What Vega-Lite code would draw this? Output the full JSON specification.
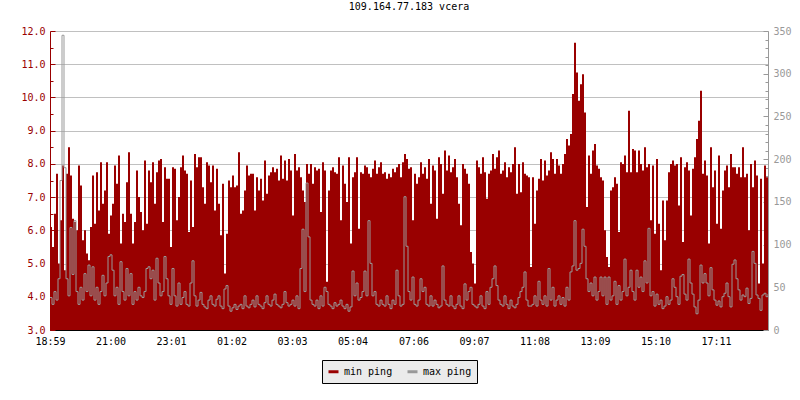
{
"$schema": "https://vega.github.io/schema/vega-lite/v6.json",
"width": 718, "height": 299,
"autosize": {"type": "none"},
"padding": {"left": 50, "top": 31, "right": 32, "bottom": 70},
"background": "white",
"title": {"text": "109.164.77.183 vcera", "font": "DejaVu Sans Mono", "fontSize": 10, "fontWeight": "normal", "color": "black", "offset": 14, "anchor": "middle"},
"config": {"view": {"stroke": null}},
"data": {"values": [
{"t":0,"min":6.1,"max":38},{"t":4,"min":5.5,"max":30},{"t":8,"min":6.5,"max":45},{"t":12,"min":7.7,"max":35},{"t":16,"min":5.0,"max":60},{"t":20,"min":6.3,"max":175},{"t":24,"min":7.95,"max":345},{"t":28,"min":4.8,"max":190},{"t":32,"min":7.7,"max":60},{"t":36,"min":8.5,"max":40},
{"t":40,"min":7.65,"max":120},{"t":44,"min":6.35,"max":65},{"t":48,"min":6.25,"max":128},{"t":52,"min":6.0,"max":45},{"t":56,"min":7.95,"max":30},{"t":60,"min":7.35,"max":50},{"t":64,"min":5.7,"max":35},{"t":68,"min":6.0,"max":66},{"t":72,"min":5.3,"max":45},{"t":76,"min":5.1,"max":76},
{"t":80,"min":6.1,"max":40},{"t":84,"min":7.65,"max":74},{"t":88,"min":6.2,"max":35},{"t":92,"min":7.75,"max":50},{"t":96,"min":6.6,"max":30},{"t":100,"min":8.05,"max":45},{"t":104,"min":6.8,"max":64},{"t":108,"min":7.2,"max":40},{"t":112,"min":8.05,"max":55},{"t":116,"min":5.9,"max":86},
{"t":120,"min":6.45,"max":88},{"t":124,"min":6.8,"max":70},{"t":128,"min":7.95,"max":40},{"t":132,"min":7.4,"max":50},{"t":136,"min":8.25,"max":30},{"t":140,"min":5.6,"max":80},{"t":144,"min":6.5,"max":45},{"t":148,"min":6.25,"max":35},{"t":152,"min":7.45,"max":72},{"t":156,"min":8.35,"max":40},
{"t":160,"min":6.5,"max":66},{"t":164,"min":5.6,"max":30},{"t":168,"min":6.25,"max":45},{"t":172,"min":7.8,"max":35},{"t":176,"min":7.0,"max":50},{"t":180,"min":6.55,"max":40},{"t":184,"min":6.0,"max":38},{"t":188,"min":8.1,"max":45},{"t":192,"min":6.2,"max":72},{"t":196,"min":7.8,"max":74},
{"t":200,"min":7.45,"max":60},{"t":204,"min":8.05,"max":70},{"t":208,"min":6.8,"max":35},{"t":212,"min":7.75,"max":84},{"t":216,"min":8.1,"max":55},{"t":220,"min":8.15,"max":40},{"t":224,"min":6.25,"max":45},{"t":228,"min":7.9,"max":86},{"t":232,"min":7.55,"max":60},{"t":236,"min":7.55,"max":40},
{"t":240,"min":5.5,"max":30},{"t":244,"min":7.9,"max":72},{"t":248,"min":7.85,"max":40},{"t":252,"min":6.3,"max":28},{"t":256,"min":7.0,"max":55},{"t":260,"min":7.9,"max":30},{"t":264,"min":8.25,"max":38},{"t":268,"min":7.8,"max":45},{"t":272,"min":7.7,"max":30},{"t":276,"min":5.95,"max":28},
{"t":280,"min":7.5,"max":55},{"t":284,"min":6.1,"max":81},{"t":288,"min":8.3,"max":40},{"t":292,"min":7.9,"max":28},{"t":296,"min":8.2,"max":35},{"t":300,"min":8.2,"max":44},{"t":304,"min":7.3,"max":30},{"t":308,"min":6.8,"max":27},{"t":312,"min":8.05,"max":25},{"t":316,"min":7.95,"max":35},
{"t":320,"min":7.45,"max":40},{"t":324,"min":7.95,"max":30},{"t":328,"min":6.6,"max":28},{"t":332,"min":7.85,"max":36},{"t":336,"min":6.8,"max":40},{"t":340,"min":5.85,"max":28},{"t":344,"min":7.4,"max":25},{"t":348,"min":4.7,"max":48},{"t":352,"min":5.9,"max":52},{"t":356,"min":7.5,"max":28},
{"t":360,"min":7.3,"max":22},{"t":364,"min":7.65,"max":26},{"t":368,"min":7.3,"max":30},{"t":372,"min":7.35,"max":24},{"t":376,"min":8.35,"max":28},{"t":380,"min":6.5,"max":30},{"t":384,"min":6.6,"max":25},{"t":388,"min":7.2,"max":40},{"t":392,"min":7.95,"max":28},{"t":396,"min":7.65,"max":26},
{"t":400,"min":7.7,"max":30},{"t":404,"min":7.7,"max":35},{"t":408,"min":6.6,"max":27},{"t":412,"min":7.6,"max":40},{"t":416,"min":7.2,"max":30},{"t":420,"min":7.55,"max":28},{"t":424,"min":6.9,"max":25},{"t":428,"min":8.1,"max":32},{"t":432,"min":7.1,"max":40},{"t":436,"min":7.65,"max":30},
{"t":440,"min":7.75,"max":28},{"t":444,"min":7.9,"max":35},{"t":448,"min":7.75,"max":42},{"t":452,"min":7.85,"max":30},{"t":456,"min":7.5,"max":28},{"t":460,"min":8.25,"max":26},{"t":464,"min":7.55,"max":30},{"t":468,"min":8.1,"max":45},{"t":472,"min":7.5,"max":32},{"t":476,"min":8.15,"max":28},
{"t":480,"min":7.8,"max":30},{"t":484,"min":6.45,"max":35},{"t":488,"min":8.3,"max":28},{"t":492,"min":7.8,"max":40},{"t":496,"min":7.9,"max":25},{"t":500,"min":7.6,"max":72},{"t":504,"min":7.2,"max":118},{"t":508,"min":6.85,"max":45},{"t":512,"min":8.0,"max":172},{"t":516,"min":7.7,"max":109},
{"t":520,"min":8.0,"max":35},{"t":524,"min":7.4,"max":30},{"t":528,"min":7.9,"max":28},{"t":532,"min":7.8,"max":35},{"t":536,"min":7.85,"max":25},{"t":540,"min":6.55,"max":40},{"t":544,"min":8.05,"max":28},{"t":548,"min":7.8,"max":50},{"t":552,"min":4.45,"max":45},{"t":556,"min":7.2,"max":30},
{"t":560,"min":7.8,"max":28},{"t":564,"min":7.9,"max":25},{"t":568,"min":7.75,"max":32},{"t":572,"min":7.7,"max":28},{"t":576,"min":8.2,"max":30},{"t":580,"min":6.3,"max":35},{"t":584,"min":7.95,"max":28},{"t":588,"min":7.4,"max":25},{"t":592,"min":6.85,"max":30},{"t":596,"min":8.2,"max":22},
{"t":600,"min":5.6,"max":27},{"t":604,"min":7.6,"max":69},{"t":608,"min":7.75,"max":40},{"t":612,"min":8.2,"max":55},{"t":616,"min":6.05,"max":35},{"t":620,"min":7.75,"max":38},{"t":624,"min":7.7,"max":45},{"t":628,"min":7.95,"max":69},{"t":632,"min":7.9,"max":40},{"t":636,"min":7.7,"max":128},
{"t":640,"min":7.6,"max":78},{"t":644,"min":7.85,"max":40},{"t":648,"min":8.1,"max":45},{"t":652,"min":7.7,"max":30},{"t":656,"min":7.9,"max":28},{"t":660,"min":8.05,"max":35},{"t":664,"min":7.7,"max":30},{"t":668,"min":7.75,"max":28},{"t":672,"min":7.55,"max":40},{"t":676,"min":7.7,"max":30},
{"t":680,"min":7.6,"max":25},{"t":684,"min":7.85,"max":35},{"t":688,"min":7.75,"max":30},{"t":692,"min":7.9,"max":70},{"t":696,"min":8.0,"max":40},{"t":700,"min":7.6,"max":28},{"t":704,"min":8.05,"max":30},{"t":708,"min":8.3,"max":156},{"t":712,"min":8.15,"max":98},{"t":716,"min":7.85,"max":45},
{"t":720,"min":7.9,"max":35},{"t":724,"min":6.3,"max":62},{"t":728,"min":7.7,"max":30},{"t":732,"min":7.4,"max":28},{"t":736,"min":7.6,"max":35},{"t":740,"min":8.05,"max":60},{"t":744,"min":7.7,"max":45},{"t":748,"min":7.9,"max":50},{"t":752,"min":7.55,"max":30},{"t":756,"min":8.15,"max":28},
{"t":760,"min":6.8,"max":40},{"t":764,"min":7.95,"max":28},{"t":768,"min":7.8,"max":35},{"t":772,"min":6.35,"max":30},{"t":776,"min":8.2,"max":26},{"t":780,"min":8.0,"max":28},{"t":784,"min":7.1,"max":75},{"t":788,"min":8.4,"max":35},{"t":792,"min":7.8,"max":30},{"t":796,"min":8.25,"max":28},
{"t":800,"min":7.75,"max":40},{"t":804,"min":7.9,"max":28},{"t":808,"min":8.15,"max":25},{"t":812,"min":7.6,"max":30},{"t":816,"min":6.8,"max":40},{"t":820,"min":6.15,"max":28},{"t":824,"min":8.0,"max":25},{"t":828,"min":7.85,"max":54},{"t":832,"min":7.7,"max":35},{"t":836,"min":7.4,"max":45},
{"t":840,"min":5.35,"max":50},{"t":844,"min":5.0,"max":30},{"t":848,"min":4.4,"max":28},{"t":852,"min":8.1,"max":26},{"t":856,"min":7.9,"max":30},{"t":860,"min":7.7,"max":40},{"t":864,"min":8.2,"max":28},{"t":868,"min":7.75,"max":25},{"t":872,"min":6.95,"max":45},{"t":876,"min":7.7,"max":30},
{"t":880,"min":7.8,"max":50},{"t":884,"min":8.3,"max":60},{"t":888,"min":7.85,"max":75},{"t":892,"min":8.2,"max":52},{"t":896,"min":8.4,"max":35},{"t":900,"min":7.7,"max":30},{"t":904,"min":7.8,"max":28},{"t":908,"min":8.05,"max":40},{"t":912,"min":7.6,"max":30},{"t":916,"min":7.9,"max":25},
{"t":920,"min":7.75,"max":35},{"t":924,"min":8.0,"max":28},{"t":928,"min":8.5,"max":26},{"t":932,"min":7.1,"max":30},{"t":936,"min":8.0,"max":38},{"t":940,"min":7.15,"max":45},{"t":944,"min":8.05,"max":50},{"t":948,"min":7.7,"max":68},{"t":952,"min":7.65,"max":35},{"t":956,"min":7.6,"max":28},
{"t":960,"min":4.9,"max":28},{"t":964,"min":7.6,"max":30},{"t":968,"min":6.2,"max":40},{"t":972,"min":7.2,"max":28},{"t":976,"min":7.55,"max":57},{"t":980,"min":8.15,"max":35},{"t":984,"min":7.5,"max":30},{"t":988,"min":8.1,"max":40},{"t":992,"min":7.65,"max":28},{"t":996,"min":7.8,"max":72},
{"t":1000,"min":8.35,"max":35},{"t":1004,"min":8.15,"max":50},{"t":1008,"min":7.7,"max":28},{"t":1012,"min":8.15,"max":35},{"t":1016,"min":7.95,"max":40},{"t":1020,"min":7.7,"max":30},{"t":1024,"min":8.0,"max":38},{"t":1028,"min":8.3,"max":28},{"t":1032,"min":8.75,"max":50},{"t":1036,"min":8.55,"max":35},
{"t":1040,"min":8.9,"max":68},{"t":1044,"min":10.1,"max":75},{"t":1048,"min":11.65,"max":128},{"t":1052,"min":10.75,"max":70},{"t":1056,"min":9.9,"max":72},{"t":1060,"min":10.4,"max":78},{"t":1064,"min":10.7,"max":118},{"t":1068,"min":9.55,"max":98},{"t":1072,"min":6.7,"max":60},{"t":1076,"min":8.25,"max":45},
{"t":1080,"min":7.7,"max":55},{"t":1084,"min":8.4,"max":40},{"t":1088,"min":8.6,"max":62},{"t":1092,"min":7.95,"max":35},{"t":1096,"min":7.85,"max":45},{"t":1100,"min":7.6,"max":62},{"t":1104,"min":7.5,"max":40},{"t":1108,"min":6.0,"max":62},{"t":1112,"min":5.2,"max":30},{"t":1116,"min":4.9,"max":62},
{"t":1120,"min":7.2,"max":35},{"t":1124,"min":7.3,"max":40},{"t":1128,"min":7.6,"max":57},{"t":1132,"min":7.4,"max":30},{"t":1136,"min":5.95,"max":52},{"t":1140,"min":8.05,"max":35},{"t":1144,"min":8.0,"max":45},{"t":1148,"min":8.25,"max":83},{"t":1152,"min":7.75,"max":40},{"t":1156,"min":9.6,"max":50},
{"t":1160,"min":7.75,"max":70},{"t":1164,"min":8.45,"max":45},{"t":1168,"min":8.4,"max":35},{"t":1172,"min":7.75,"max":70},{"t":1176,"min":8.4,"max":50},{"t":1180,"min":8.0,"max":62},{"t":1184,"min":7.8,"max":45},{"t":1188,"min":8.5,"max":81},{"t":1192,"min":7.9,"max":55},{"t":1196,"min":8.0,"max":119},
{"t":1200,"min":6.3,"max":40},{"t":1204,"min":7.95,"max":45},{"t":1208,"min":5.9,"max":28},{"t":1212,"min":8.15,"max":42},{"t":1216,"min":6.2,"max":30},{"t":1220,"min":4.8,"max":35},{"t":1224,"min":6.9,"max":25},{"t":1228,"min":5.7,"max":28},{"t":1232,"min":6.9,"max":39},{"t":1236,"min":7.75,"max":30},
{"t":1240,"min":8.0,"max":35},{"t":1244,"min":8.1,"max":60},{"t":1248,"min":7.95,"max":50},{"t":1252,"min":8.0,"max":39},{"t":1256,"min":6.75,"max":30},{"t":1260,"min":8.2,"max":63},{"t":1264,"min":5.65,"max":65},{"t":1268,"min":7.9,"max":42},{"t":1272,"min":8.05,"max":35},{"t":1276,"min":7.8,"max":83},
{"t":1280,"min":6.45,"max":55},{"t":1284,"min":7.85,"max":42},{"t":1288,"min":8.2,"max":27},{"t":1292,"min":8.75,"max":19},{"t":1296,"min":9.3,"max":35},{"t":1300,"min":10.2,"max":76},{"t":1304,"min":7.7,"max":55},{"t":1308,"min":8.1,"max":66},{"t":1312,"min":7.65,"max":55},{"t":1316,"min":5.6,"max":40},
{"t":1320,"min":8.5,"max":73},{"t":1324,"min":7.3,"max":47},{"t":1328,"min":7.8,"max":35},{"t":1332,"min":6.2,"max":29},{"t":1336,"min":8.25,"max":34},{"t":1340,"min":6.05,"max":27},{"t":1344,"min":7.2,"max":39},{"t":1348,"min":7.8,"max":43},{"t":1352,"min":7.95,"max":55},{"t":1356,"min":7.3,"max":39},
{"t":1360,"min":8.3,"max":27},{"t":1364,"min":7.9,"max":77},{"t":1368,"min":7.9,"max":82},{"t":1372,"min":7.7,"max":60},{"t":1376,"min":7.9,"max":47},{"t":1380,"min":7.6,"max":35},{"t":1384,"min":8.5,"max":41},{"t":1388,"min":7.6,"max":39},{"t":1392,"min":7.7,"max":49},{"t":1396,"min":6.0,"max":31},
{"t":1400,"min":8.0,"max":37},{"t":1404,"min":7.3,"max":92},{"t":1408,"min":8.1,"max":78},{"t":1412,"min":7.65,"max":41},{"t":1416,"min":4.4,"max":37},{"t":1420,"min":7.55,"max":23},{"t":1424,"min":5.0,"max":41},{"t":1428,"min":7.95,"max":43},{"t":1432,"min":7.6,"max":39},{"t":1436,"min":6.3,"max":42}
]},
"layer": [
 {"mark": {"type": "area", "interpolate": "step-after", "fill": "#990000", "strokeWidth": 0, "clip": true},
  "encoding": {
   "x": {"field": "t", "type": "quantitative", "scale": {"domain": [0, 1436], "nice": false, "zero": false},
    "axis": {"values": [0,121,242,363,484,605,727,848,969,1090,1211,1332], "labelExpr": "timeFormat(datetime(2024,0,1,18,59+datum.value), '%H:%M')", "title": null, "grid": false, "domainColor": "#000000", "tickColor": "#000000", "tickSize": -5, "labelColor": "#000000", "labelFont": "DejaVu Sans Mono", "labelFontSize": 10, "labelPadding": 11, "labelOverlap": false, "labelFlush": false}},
   "y": {"field": "min", "type": "quantitative", "scale": {"domain": [3, 12], "nice": false, "zero": false},
    "axis": {"values": [3,3.5,4,4.5,5,5.5,6,6.5,7,7.5,8,8.5,9,9.5,10,10.5,11,11.5,12], "labelExpr": "datum.value % 1 == 0 ? format(datum.value, '.1f') : ''", "title": null, "grid": true, "gridColor": "#c0c0c0", "gridOpacity": {"condition": {"test": "datum.value % 1 != 0", "value": 0}, "value": 1}, "tickSize": {"condition": {"test": "datum.value % 1 != 0", "value": -3}, "value": -5}, "domainColor": "#990000", "tickColor": "#990000", "labelColor": "#990000", "labelFont": "DejaVu Sans Mono", "labelFontSize": 10, "labelPadding": 10, "labelOverlap": false, "labelFlush": false}},
   "y2": {"datum": 3},
   "stroke": {"datum": "min ping", "type": "nominal", "scale": {"domain": ["min ping", "max ping"], "range": ["#990000", "#999999"]},
    "legend": {"orient": "none", "legendX": 272, "legendY": 329, "direction": "horizontal", "title": null, "fillColor": "#ebebeb", "strokeColor": "#000000", "padding": 5, "symbolType": "stroke", "symbolStrokeWidth": 3, "symbolSize": 100, "labelFont": "DejaVu Sans Mono", "labelFontSize": 10, "labelColor": "#000000", "columnPadding": 8, "labelOffset": 4}}
  }},
 {"mark": {"type": "line", "interpolate": "step-after", "strokeWidth": 1, "clip": true},
  "encoding": {
   "x": {"field": "t", "type": "quantitative"},
   "y": {"field": "max", "type": "quantitative", "scale": {"domain": [0, 350], "nice": false, "zero": true},
    "axis": {"orient": "right", "values": [0,10,20,30,40,50,60,70,80,90,100,110,120,130,140,150,160,170,180,190,200,210,220,230,240,250,260,270,280,290,300,310,320,330,340,350], "labelExpr": "datum.value % 50 == 0 ? datum.label : ''", "title": null, "grid": false, "tickSize": {"condition": {"test": "datum.value % 50 != 0", "value": -3}, "value": -5}, "domainColor": "#999999", "tickColor": "#999999", "labelColor": "#999999", "labelFont": "DejaVu Sans Mono", "labelFontSize": 10, "labelPadding": 10, "labelOverlap": false, "labelFlush": false}},
   "stroke": {"datum": "max ping", "type": "nominal"}
  }}
],
"resolve": {"scale": {"y": "independent"}}
}
